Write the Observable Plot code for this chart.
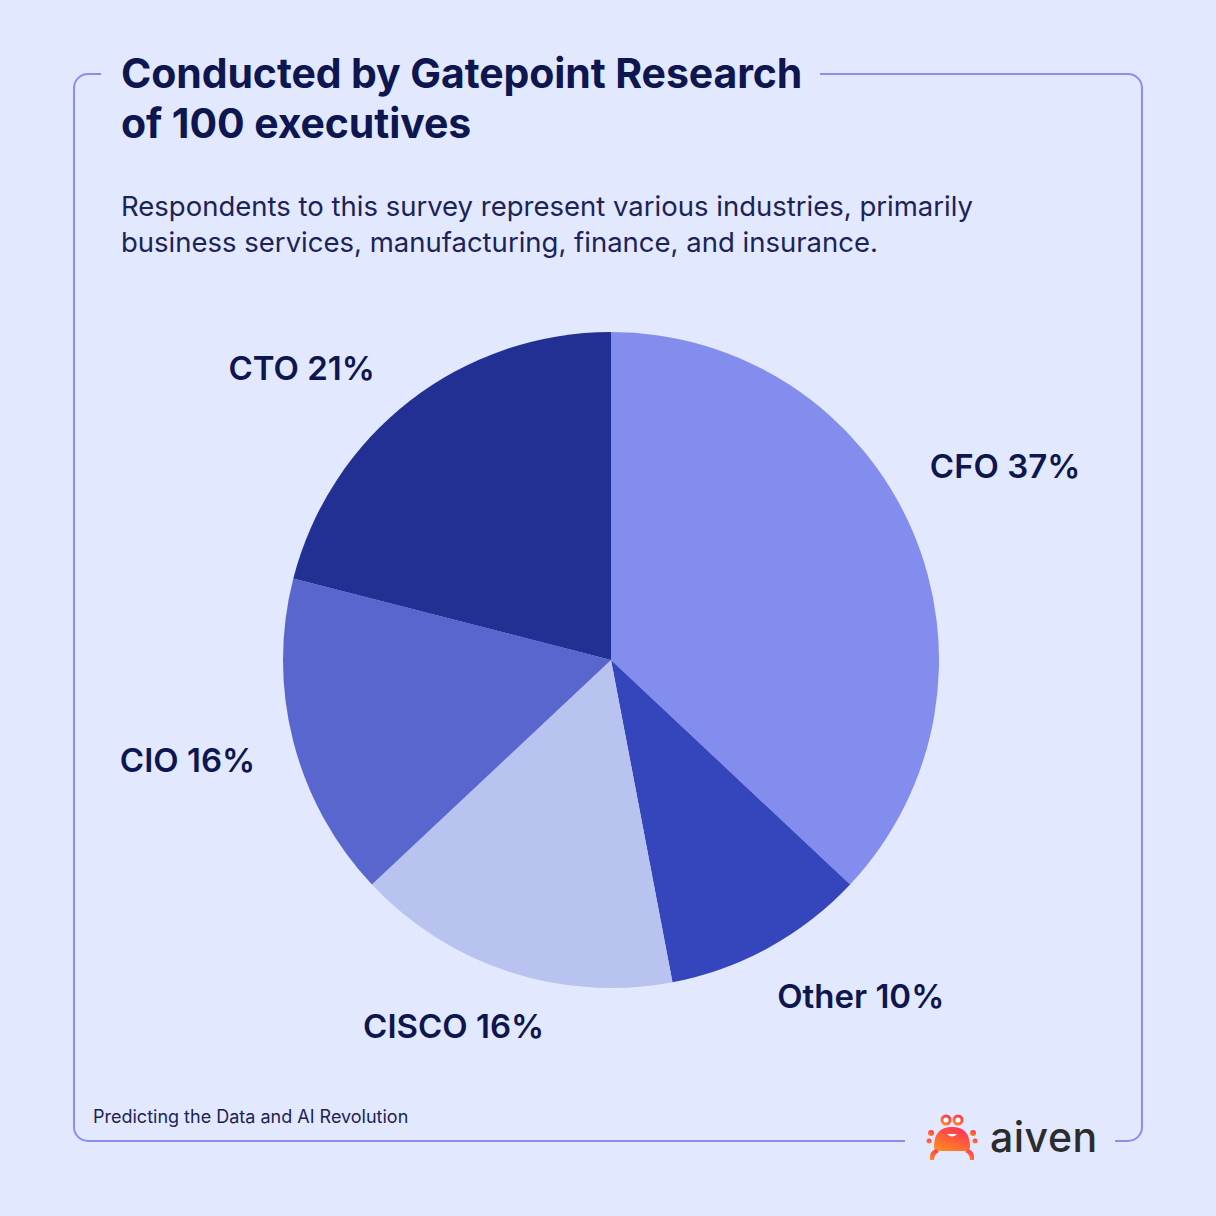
<!DOCTYPE html>
<html>
<head>
<meta charset="utf-8">
<script src="https://cdn.jsdelivr.net/npm/d3@7"></script>
<script src="https://cdn.jsdelivr.net/npm/@observablehq/plot@0.6"></script>
<style>
  html, body { margin: 0; padding: 0; }
  body { width: 1216px; height: 1216px; background: #e2e8fd; font-family: Inter, "Noto Sans", sans-serif; position: relative; overflow: hidden; }
  #frame { position: absolute; left: 0; top: 0; }
  #title { position: absolute; left: 101px; top: 48px; padding: 0 18px 0 20px; background: #e2e8fd; color: #0e1650; font-weight: 700; font-size: 41px; line-height: 50px; letter-spacing: -0.1px; }
  #subtitle { position: absolute; left: 121px; top: 188px; color: #1c2358; font-size: 27.5px; line-height: 36px; font-weight: 400; }
  #chart { position: absolute; left: 0; top: 290px; }
  #caption { position: absolute; left: 93px; top: 1106px; color: #1c2358; font-size: 18px; }
  #logo { position: absolute; left: 905px; top: 1112px; width: 210px; height: 50px; background: #e2e8fd; display: flex; align-items: center; }
  #logo span { font-size: 41px; color: #2c2c2f; font-weight: 500; margin-left: 12px; letter-spacing: 0.5px; }
</style>
</head>
<body>
<svg id="frame" width="1216" height="1216">
  <rect x="74" y="74" width="1068" height="1067" rx="14" ry="14" fill="none" stroke="#8791ec" stroke-width="2"/>
</svg>
<div id="title">Conducted by Gatepoint Research<br>of 100 executives</div>
<div id="subtitle">Respondents to this survey represent various industries, primarily<br>business services, manufacturing, finance, and insurance.</div>
<div id="chart"></div>
<div id="caption">Predicting the Data and AI Revolution</div>
<div id="logo">
  <svg width="52" height="48" viewBox="0 0 52 48" style="margin-left:21px">
    <defs>
      <linearGradient id="cg" x1="0.8" y1="0" x2="0.2" y2="1">
        <stop offset="0" stop-color="#ff2f5a"/>
        <stop offset="1" stop-color="#ff8a1e"/>
      </linearGradient>
    </defs>
    <g fill="url(#cg)">
      <circle cx="20" cy="7" r="5.5"/>
      <circle cx="32" cy="7" r="5.5"/>
      <path d="M8 34 Q8 14 26 14 Q44 14 44 34 Q44 38 38 38 L14 38 Q8 38 8 34 Z"/>
      <circle cx="5" cy="20" r="3"/>
      <circle cx="47" cy="20" r="3"/>
      <circle cx="3" cy="28" r="2.5"/>
      <circle cx="49" cy="28" r="2.5"/>
      <path d="M10 36 Q3 38 4 47 L8 47 Q8 41 13 39 Z"/>
      <path d="M42 36 Q49 38 48 47 L44 47 Q44 41 39 39 Z"/>
    </g>
    <circle cx="20" cy="7" r="2.6" fill="#fff"/>
    <circle cx="32" cy="7" r="2.6" fill="#fff"/>
    <path d="M21 21 Q26 26 31 21 Z" fill="#fff"/>
  </svg>
  <span>aiven</span>
</div>
<script>
// Data
const roles = ["CFO", "Other", "CISCO", "CIO", "CTO"];
const shares = [37, 10, 16, 16, 21];
const labels = ["CFO 37%", "Other 10%", "CISCO 16%", "CIO 16%", "CTO 21%"];

// Styles
const sliceColors = ["#838ded", "#3545bb", "#b8c3ef", "#5966cd", "#222f93"];
const labelNudge = [[-24, -45], [-14, 10], [48, 12], [5, 8], [-8, 4]];

const rows = roles.map((r, i) => ({role: r, share: shares[i], label: labels[i]}));
const arcs = d3.pie().value(d => d.share).sort(null)(rows);

const W = 1216, H = 880, cx = 611, cy = 370, R = 328;
const labelR = 373 / R;

const labelRows = arcs.map((a, i) => {
  const mid = (a.startAngle + a.endAngle) / 2;
  return {
    label: a.data.label,
    x: labelR * Math.sin(mid) + labelNudge[i][0] / R,
    y: labelR * Math.cos(mid) - labelNudge[i][1] / R,
    anchor: Math.sin(mid) > 0 ? "start" : "end"
  };
});

function pieMark(index, scales, values, dimensions, context) {
  const x0 = scales.x(0), y0 = scales.y(0);
  const r = scales.x(1) - scales.x(0);
  const arc = d3.arc().innerRadius(0).outerRadius(r);
  const g = d3.create("svg:g").attr("transform", `translate(${x0},${y0})`);
  g.selectAll("path").data(arcs).join("path")
    .attr("d", arc)
    .attr("fill", d => scales.color(d.data.role));
  return g.node();
}

const chart = Plot.plot({
  width: W, height: H,
  margin: 0,
  style: {background: "transparent", fontFamily: "Inter, 'Noto Sans', sans-serif"},
  x: {domain: [-1, 1], range: [cx - R, cx + R], axis: null},
  y: {domain: [-1, 1], range: [cy + R, cy - R], axis: null},
  color: {domain: roles, range: sliceColors},
  marks: [
    pieMark,
    Plot.text(labelRows.filter(d => d.anchor === "start"), {
      x: "x", y: "y", text: "label", textAnchor: "start", lineAnchor: "middle",
      fontSize: 33, fontWeight: 600, fill: "#0e1650"
    }),
    Plot.text(labelRows.filter(d => d.anchor === "end"), {
      x: "x", y: "y", text: "label", textAnchor: "end", lineAnchor: "middle",
      fontSize: 33, fontWeight: 600, fill: "#0e1650"
    })
  ]
});
document.getElementById("chart").appendChild(chart);
</script>
</body>
</html>
